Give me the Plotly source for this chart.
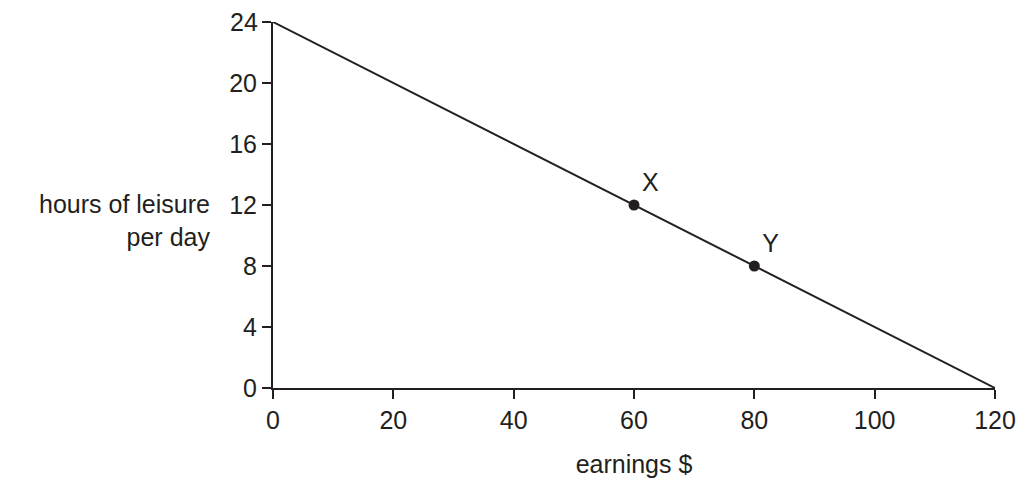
import plotly.graph_objects as go

line_x = [0, 120]
line_y = [24, 0]
pt_x = [60, 80]
pt_y = [12, 8]
pt_labels = ["X", "Y"]
x_ticks = [0, 20, 40, 60, 80, 100, 120]
y_ticks = [0, 4, 8, 12, 16, 20, 24]

fig = go.Figure()
fig.add_trace(go.Scatter(x=line_x, y=line_y, mode="lines",
                         line=dict(color="#231f20", width=2), cliponaxis=False))
fig.add_trace(go.Scatter(x=pt_x, y=pt_y, mode="markers+text", text=pt_labels,
                         textposition="top right", textfont=dict(size=25, color="#231f20"),
                         marker=dict(color="#231f20", size=11), cliponaxis=False))

fig.update_layout(
    width=1025, height=488,
    margin=dict(l=265, r=38, t=14, b=108),
    plot_bgcolor="white", paper_bgcolor="white",
    showlegend=False,
    font=dict(family="Liberation Sans, Arial", size=25, color="#231f20"),
)
fig.update_xaxes(range=[0, 120], tickvals=x_ticks, ticks="outside", ticklen=9,
                 tickwidth=2, tickcolor="#231f20", showline=True, linecolor="#231f20",
                 linewidth=2, showgrid=False, zeroline=False, tickfont=dict(size=25),
                 title=dict(text="earnings $", standoff=22, font=dict(size=25)))
# top label drawn separately: plotly drops it when it touches the page edge
fig.update_yaxes(range=[0, 24], tickvals=y_ticks,
                 ticktext=[str(v) if v != y_ticks[-1] else "" for v in y_ticks],
                 ticks="outside", ticklen=9,
                 tickwidth=2, tickcolor="#231f20", showline=True, linecolor="#231f20",
                 linewidth=2, showgrid=False, zeroline=False, tickfont=dict(size=25))
fig.add_annotation(text=str(y_ticks[-1]), xref="paper", yref="y", x=0, y=y_ticks[-1],
                   xanchor="right", yanchor="middle", xshift=-13, showarrow=False,
                   font=dict(size=25))
fig.add_annotation(text="hours of leisure<br>per day", xref="paper", yref="y",
                   x=-0.085, y=11, xanchor="right", yanchor="middle", align="right",
                   showarrow=False, font=dict(size=25))

fig.write_html("out.html")
